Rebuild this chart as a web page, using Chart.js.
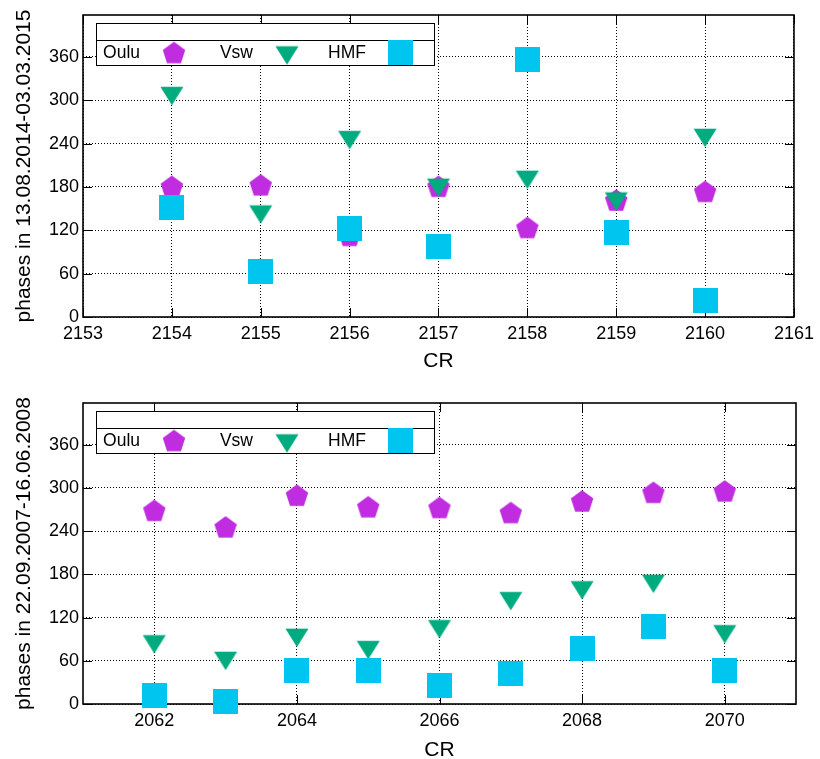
<!DOCTYPE html>
<html>
<head>
<meta charset="utf-8">
<script src="https://cdn.jsdelivr.net/npm/chart.js@4/dist/chart.umd.min.js"></script>
<style>
  html, body { margin: 0; padding: 0; background: #fff; }
  canvas { display: block; }
</style>
</head>
<body>
<canvas id="top" width="820" height="370"></canvas>
<canvas id="bottom" width="820" height="389"></canvas>
<script>
// Carrington rotations and phases, 13.08.2014 - 03.03.2015
const crTop = [2154, 2155, 2156, 2157, 2158, 2159, 2160];
const ouluTop = [181, 183, 113, 181, 124, 162, 174];
const vswTop = [310, 146, 249, 183, 194, 164, 252];
const hmfTop = [151, 63, 122, 97, 356, 117, 23];

// Carrington rotations and phases, 22.09.2007 - 16.06.2008
const crBottom = [2062, 2063, 2064, 2065, 2066, 2067, 2068, 2069, 2070];
const ouluBottom = [269, 246, 290, 274, 273, 266, 282, 294, 296];
const vswBottom = [87, 64, 96, 79, 108, 147, 162, 171, 101];
const hmfBottom = [12, 3, 47, 47, 26, 43, 77, 107, 46];

// Axis ticks
const yTicks = [0, 60, 120, 180, 240, 300, 360];
const xTicksTop = [2153, 2154, 2155, 2156, 2157, 2158, 2159, 2160, 2161];
const xTicksBottom = [2062, 2064, 2066, 2068, 2070];

const seriesNames = ['Oulu', 'Vsw', 'HMF'];
const COLORS = { oulu: '#c02ce0', vsw: '#00ab80', hmf: '#00c5ee' };
const FONT = '"Liberation Sans", Arial, Helvetica, sans-serif';

// Marker images
function makeCanvas(size) {
  const c = document.createElement('canvas');
  c.width = size; c.height = size;
  return c;
}
function pentagon(color) {
  const c = makeCanvas(26), g = c.getContext('2d');
  const R = 11.8, cx = 13, cy = 13 + 0.0955 * R;
  g.fillStyle = color;
  g.beginPath();
  for (let k = 0; k < 5; k++) {
    const a = -Math.PI / 2 + k * 2 * Math.PI / 5;
    const px = cx + R * Math.cos(a), py = cy + R * Math.sin(a);
    if (k === 0) g.moveTo(px, py); else g.lineTo(px, py);
  }
  g.closePath(); g.fill();
  return c;
}
function triangleDown(color) {
  const c = makeCanvas(26), g = c.getContext('2d');
  const w = 23, h = 18.5, cx = 13, cy = 13;
  g.fillStyle = color;
  g.beginPath();
  g.moveTo(cx - w / 2, cy - h / 3);
  g.lineTo(cx + w / 2, cy - h / 3);
  g.lineTo(cx, cy + 2 * h / 3);
  g.closePath(); g.fill();
  return c;
}
function square(color) {
  const c = makeCanvas(25), g = c.getContext('2d');
  g.fillStyle = color;
  g.fillRect(0, 0, 25, 25);
  return c;
}
const markers = [pentagon(COLORS.oulu), triangleDown(COLORS.vsw), square(COLORS.hmf)];

// Frame with inward tick marks (drawn under the markers)
const framePlugin = {
  id: 'frame',
  beforeDatasetsDraw(chart) {
    const { ctx, chartArea: a, scales } = chart;
    ctx.save();
    ctx.strokeStyle = '#000';
    ctx.lineWidth = 1;
    const L = 9;
    ctx.beginPath();
    scales.x.ticks.forEach(t => {
      const x = Math.round(scales.x.getPixelForValue(t.value)) + 0.5;
      ctx.moveTo(x, a.bottom); ctx.lineTo(x, a.bottom - L);
      ctx.moveTo(x, a.top); ctx.lineTo(x, a.top + L);
    });
    scales.y.ticks.forEach(t => {
      const y = Math.round(scales.y.getPixelForValue(t.value)) + 0.5;
      ctx.moveTo(a.left, y); ctx.lineTo(a.left + L, y);
      ctx.moveTo(a.right, y); ctx.lineTo(a.right - L, y);
    });
    ctx.stroke();
    ctx.lineWidth = 1.6;
    ctx.strokeRect(a.left, a.top, a.right - a.left, a.bottom - a.top);
    ctx.restore();
  }
};

// Key box: empty title row over one row of entries, text before marker
const keyPlugin = {
  id: 'keybox',
  afterDraw(chart) {
    const { ctx, chartArea: a } = chart;
    const bx = a.left + 13, by = a.top + 8, bw = 338, titleH = 17, rowH = 25;
    ctx.save();
    ctx.fillStyle = '#fff';
    ctx.fillRect(bx, by, bw, titleH + rowH);
    ctx.strokeStyle = '#000';
    ctx.lineWidth = 1;
    ctx.strokeRect(bx + 0.5, by + 0.5, bw, titleH + rowH);
    ctx.beginPath();
    ctx.moveTo(bx, by + titleH + 0.5); ctx.lineTo(bx + bw, by + titleH + 0.5);
    ctx.stroke();
    ctx.font = '17.5px ' + FONT;
    ctx.fillStyle = '#000';
    ctx.textAlign = 'right';
    ctx.textBaseline = 'middle';
    const rowY = by + titleH + rowH / 2;
    chart.data.datasets.forEach((ds, i) => {
      const textRight = a.left + 57 + i * 113;
      ctx.fillText(ds.label, textRight, rowY + 1);
      const img = ds.pointStyle;
      ctx.drawImage(img, textRight + 34 - img.width / 2, rowY - img.height / 2);
    });
    ctx.restore();
  }
};

function makeChart(id, cr, series, xMin, xMax, xTicks, yTitle, areaTop, areaBottom, canvasH) {
  const datasets = series.map((vals, i) => ({
    label: seriesNames[i],
    data: cr.map((c, j) => ({ x: c, y: vals[j] })),
    pointStyle: markers[i],
    pointRadius: 12,
    showLine: false,
    clip: false,
    order: 3 - i
  }));
  const gridCommon = { color: '#000', lineWidth: 1, drawTicks: false };
  const tickFont = { family: FONT, size: 18 };
  return new Chart(document.getElementById(id), {
    type: 'scatter',
    data: { datasets },
    options: {
      responsive: false,
      animation: false,
      events: [],
      layout: { padding: { top: areaTop, right: 24, left: 0, bottom: 0 } },
      plugins: { legend: { display: false }, tooltip: { enabled: false } },
      scales: {
        x: {
          type: 'linear', min: xMin, max: xMax,
          afterBuildTicks: s => { s.ticks = xTicks.map(v => ({ value: v })); },
          afterFit: s => { s.height = canvasH - areaBottom; },
          ticks: { color: '#000', font: tickFont, padding: 6, autoSkip: false, maxRotation: 0,
                   callback: v => String(v) },
          grid: gridCommon,
          border: { display: false, dash: [1, 2] },
          title: { display: true, text: 'CR', color: '#000',
                   font: { family: FONT, size: 21, lineHeight: 1 }, padding: { top: 0, bottom: -2 } }
        },
        y: {
          type: 'linear', min: 0, max: 418,
          afterBuildTicks: s => { s.ticks = yTicks.map(v => ({ value: v })); },
          afterFit: s => { s.width = 83; },
          ticks: { color: '#000', font: tickFont, padding: 4, callback: v => String(v) },
          grid: gridCommon,
          border: { display: false, dash: [1, 2] },
          title: { display: true, text: yTitle, color: '#000',
                   font: { family: FONT, size: 21, lineHeight: 1 }, padding: { top: 14, bottom: 0 } }
        }
      }
    },
    plugins: [framePlugin, keyPlugin]
  });
}

makeChart('top', crTop, [ouluTop, vswTop, hmfTop], 2153, 2161, xTicksTop,
  'phases in 13.08.2014-03.03.2015', 15, 317, 370);
makeChart('bottom', crBottom, [ouluBottom, vswBottom, hmfBottom], 2061, 2071, xTicksBottom,
  'phases in 22.09.2007-16.06.2008', 33, 334, 389);
</script>
</body>
</html>
